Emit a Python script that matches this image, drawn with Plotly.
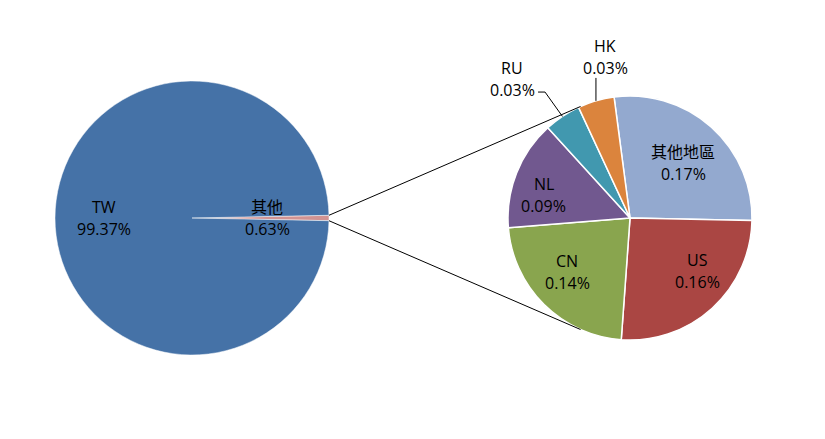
import math
import plotly.graph_objects as go

# ---- data ----
main_labels = ["其他", "TW"]
main_values = [0.63, 99.37]
sub_labels = ["其他地區", "US", "CN", "NL", "RU", "HK"]
sub_values = [0.17, 0.16, 0.14, 0.09, 0.03, 0.03]

main_colors = ["#D19392", "#4572A7"]
sub_colors = ["#93A9CF", "#AA4643", "#89A54E", "#71588F", "#4198AF", "#DB843D"]

W, H = 825, 439
OFF = 8  # page body margin
FONT = "Open Sans, Noto Sans CJK TC, sans-serif"
FS = 16
LINE_GAP = 22

# geometry (screen pixels)
L_cx, L_cy, L_r = 192, 218, 137
R_cx, R_cy, R_r = 630, 218, 122
sub_rotation = -7.5

# label placement: (radius factor, angle offset deg) relative to slice middle
main_label_pos = [(0.55, 0.0), (0.64, 0.0)]
sub_label_pos = [(0.63, 2.0), (0.70, -9.5), (0.68, 4.5), (0.73, -6.5), (1.494, -6.7), (1.336, 7.4)]


def px(x):
    return (x - OFF) / W


def py(y):
    return 1 - (y - OFF) / H


def pt(cx, cy, r, ang):
    a = math.radians(ang)
    return cx + r * math.sin(a), cy - r * math.cos(a)


def add_label(annotations, x, y, lab, v):
    for dy, t in [(-LINE_GAP / 2, lab), (LINE_GAP / 2, f"{v:.2f}%")]:
        annotations.append(dict(x=px(x), y=py(y + dy), xref="paper", yref="paper",
                                xanchor="center", yanchor="middle",
                                text=t, showarrow=False,
                                font=dict(family=FONT, size=FS, color="black")))


main_total = sum(main_values)
main_rotation = 90 - main_values[0] / main_total * 360 / 2
sub_total = sum(sub_values)

fig = go.Figure()
fig.add_trace(go.Pie(
    labels=main_labels, values=main_values, sort=False, direction="clockwise",
    rotation=main_rotation, textinfo="none", hoverinfo="label+value",
    marker=dict(colors=main_colors, line=dict(color="white", width=0.5)),
    domain=dict(x=[px(L_cx - L_r), px(L_cx + L_r)], y=[py(L_cy + L_r), py(L_cy - L_r)]),
))
fig.add_trace(go.Pie(
    labels=sub_labels, values=sub_values, sort=False, direction="clockwise",
    rotation=sub_rotation, textinfo="none", hoverinfo="label+value",
    marker=dict(colors=sub_colors, line=dict(color="white", width=1.5)),
    domain=dict(x=[px(R_cx - R_r), px(R_cx + R_r)], y=[py(R_cy + R_r), py(R_cy - R_r)]),
))

annotations = []
shapes = []

# main labels
start = main_rotation
for lab, v, (rf, off) in zip(main_labels, main_values, main_label_pos):
    span = v / main_total * 360
    mid = start + span / 2
    x, y = pt(L_cx, L_cy, L_r * rf, mid + off)
    add_label(annotations, x, y, lab, v)
    start += span

# sub labels
start = sub_rotation
for lab, v, (rf, off) in zip(sub_labels, sub_values, sub_label_pos):
    span = v / sub_total * 360
    mid = start + span / 2
    x, y = pt(R_cx, R_cy, R_r * rf, mid + off)
    add_label(annotations, x, y, lab, v)
    if rf > 1:
        ex, ey = pt(R_cx, R_cy, R_r, mid)
        if lab == "RU":
            sx, sy = x + 26, y + 13
            path = f"M {px(sx)} {py(sy)} L {px(sx + 7)} {py(sy)} L {px(ex)} {py(ey)}"
        else:
            sx, sy = ex, y + 21
            path = f"M {px(sx)} {py(sy)} L {px(ex)} {py(ey)}"
        shapes.append(dict(type="path", xref="paper", yref="paper", path=path,
                           line=dict(color="black", width=1)))
    start += span

# connector lines: from the small slice's outer edge to tangent points of sub pie
half = main_values[0] / main_total * 360 / 2
d = R_cx - (L_cx + L_r)
theta = math.degrees(math.acos(R_r / d))
for edge_ang, tan_ang in [(90 - half, 270 + theta), (90 + half, 270 - theta)]:
    x0, y0 = pt(L_cx, L_cy, L_r, edge_ang)
    x1, y1 = pt(R_cx, R_cy, R_r, tan_ang)
    shapes.append(dict(type="line", xref="paper", yref="paper",
                       x0=px(x0), y0=py(y0), x1=px(x1), y1=py(y1),
                       line=dict(color="black", width=1)))

fig.update_layout(
    width=W, height=H, margin=dict(l=0, r=0, t=0, b=0),
    paper_bgcolor="white", plot_bgcolor="white", showlegend=False,
    annotations=annotations, shapes=shapes,
)
fig.write_html("out.html")
